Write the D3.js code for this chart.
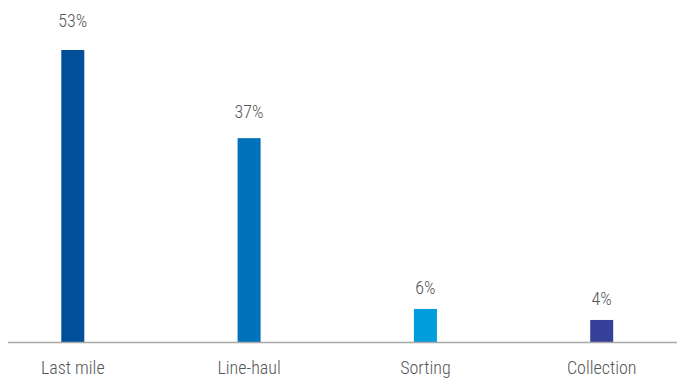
<!DOCTYPE html>
<html>
<head>
<meta charset="utf-8">
<script src="https://cdn.jsdelivr.net/npm/d3@7"></script>
<style>
  body { margin: 0; background: #fff; }
  text { font-family: "Roboto Condensed", "Liberation Sans Narrow", "Arial Narrow", Roboto, sans-serif; font-weight: 300; fill: #555; }
</style>
</head>
<body>
<div id="chart"></div>
<script>
var categories = ["Last mile", "Line-haul", "Sorting", "Collection"];
var values = [53, 37, 6, 4];
var valueLabels = ["53%", "37%", "6%", "4%"];
var barColors = ["#004f98", "#0071bb", "#009ddc", "#35409a"];

var width = 677, height = 378;
var baseline = 342;

var svg = d3.select("#chart").append("svg")
    .attr("width", width)
    .attr("height", height);

var x = d3.scalePoint()
    .domain(categories)
    .range([72.8, 601.7]);

var y = d3.scaleLinear()
    .domain([0, 53])
    .range([baseline, 50]);

// value labels sit a bit higher on the tall bars
var labelY = d3.scaleLinear()
    .domain([0, 53])
    .range([328, 27]);

var barWidth = 23;

svg.selectAll(".bar")
    .data(categories)
    .enter().append("rect")
    .attr("class", "bar")
    .attr("x", function(d) { return x(d) - barWidth / 2; })
    .attr("y", function(d, i) { return y(values[i]); })
    .attr("width", barWidth)
    .attr("height", function(d, i) { return baseline - y(values[i]); })
    .attr("fill", function(d, i) { return barColors[i]; });

// baseline
svg.append("line")
    .attr("x1", 8)
    .attr("x2", width)
    .attr("y1", baseline + 0.5)
    .attr("y2", baseline + 0.5)
    .attr("stroke", "#a8a8a8")
    .attr("stroke-width", 1.5);

svg.selectAll(".value-label")
    .data(categories)
    .enter().append("text")
    .attr("class", "value-label")
    .attr("x", function(d) { return x(d); })
    .attr("y", function(d, i) { return labelY(values[i]); })
    .attr("text-anchor", "middle")
    .style("font-size", "18px")
    .text(function(d, i) { return valueLabels[i]; });

svg.selectAll(".cat-label")
    .data(categories)
    .enter().append("text")
    .attr("class", "cat-label")
    .attr("x", function(d) { return x(d); })
    .attr("y", 374)
    .attr("text-anchor", "middle")
    .style("font-size", "18px")
    .text(function(d) { return d; });
</script>
</body>
</html>
